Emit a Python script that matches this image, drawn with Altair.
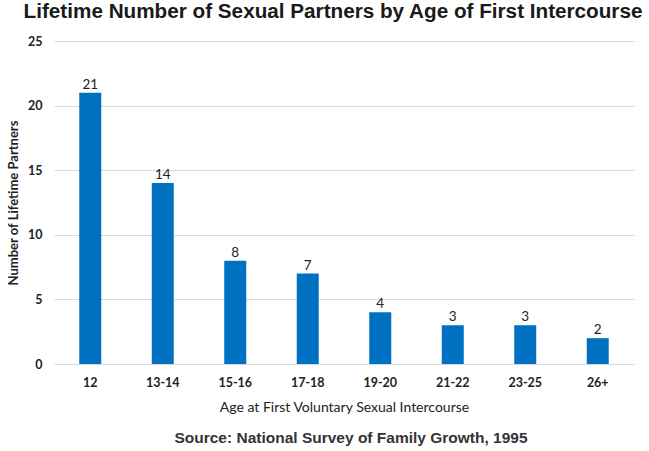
import altair as alt
import pandas as pd

ages = ["12", "13-14", "15-16", "17-18", "19-20", "21-22", "23-25", "26+"]
partners = [21, 14, 8, 7, 4, 3, 3, 2]
source_note = ["Source: National Survey of Family Growth, 1995"]

df = pd.DataFrame({"age": ages, "partners": partners})
src = pd.DataFrame({"note": source_note})

W, H = 580, 323
yscale = alt.Scale(domain=[0, 25], nice=False)

base = alt.Chart(df)

bars = base.mark_bar(color="#0070C0", size=22).encode(
    x=alt.X("age:N", sort=ages,
            scale=alt.Scale(paddingInner=0.0, paddingOuter=0.0),
            axis=alt.Axis(title="Age at First Voluntary Sexual Intercourse",
                          labelAngle=0, labelFont="Lato", labelFontSize=12.5,
                          labelFontWeight="bold", labelColor="#222",
                          labelPadding=12, ticks=False, domain=False,
                          titleFont="Lato", titleFontSize=14,
                          titleFontWeight="normal", titleColor="#222",
                          titlePadding=12)),
    y=alt.Y("partners:Q", scale=yscale,
            axis=alt.Axis(title="Number of Lifetime Partners", values=[0, 5, 10, 15, 20, 25],
                          labelFont="Lato", labelFontSize=12.5, labelFontWeight="bold",
                          labelColor="#222", labelPadding=12, ticks=False, domain=False,
                          gridColor="#dadada", titleFont="Lato", titleFontSize=13,
                          titleFontWeight="bold", titleColor="#222", titlePadding=7)),
)

labels = base.mark_text(dy=-1, baseline="bottom", font="Lato", fontSize=13.5, color="#222").encode(
    x=alt.X("age:N", sort=ages),
    y=alt.Y("partners:Q", scale=yscale),
    text=alt.Text("partners:Q"),
)

note = alt.Chart(src).mark_text(font="Liberation Sans", fontSize=15.5, fontWeight="bold",
                                color="#333", align="center", baseline="middle").encode(
    x=alt.value(297),
    y=alt.value(H + 74),
    text="note:N",
)

chart = (bars + labels + note).properties(
    width=W, height=H,
    padding={"left": 54, "top": 41, "right": 15, "bottom": 87},
    autosize=alt.AutoSizeParams(type="none"),
    title=alt.TitleParams("Lifetime Number of Sexual Partners by Age of First Intercourse",
                          font="Liberation Sans", fontSize=20.7, fontWeight="bold",
                          color="#1a1a1a", anchor="middle", dx=-11, offset=12),
).configure_view(stroke=None)

chart.save("out.html", embed_options={"renderer": "svg", "actions": False})
